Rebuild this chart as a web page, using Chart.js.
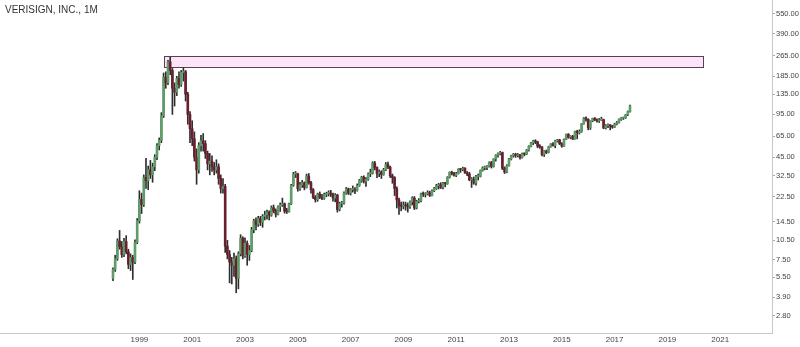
<!DOCTYPE html>
<html><head><meta charset="utf-8">
<script src="https://cdn.jsdelivr.net/npm/chart.js@4/dist/chart.umd.min.js"></script>
<style>html,body{margin:0;padding:0;background:#fff}#wrap{width:800px;height:347px}</style>
</head><body><div id="wrap"><canvas id="c" width="800" height="347"></canvas></div>
<script>
const chartTitle = 'VERISIGN, INC., 1M';
const firstYear = 1998; // first candle: January 1998, one candle per month
const yTickValues = [550, 390, 265, 185, 135, 95, 65, 45, 32.5, 22.5, 14.5, 10.5, 7.5, 5.5, 3.9, 2.8];
const xTickYears = [1999, 2001, 2003, 2005, 2007, 2009, 2011, 2013, 2015, 2017, 2019, 2021];

// monthly OHLC, one row per year (Jan..Dec)
const open = [
 5.4,6.3,7.6,10.4,9.4,8.2,10.3,8.6,6.9,7.8,7.2,10.1,
 14.8,21.5,19.6,31.5,29.8,36,33,38,45,55,60.5,93,
 182,165,238,205,150,140,178,160,198,200,135,95,
 74,62,45,36,55,60,57,48,40,42,38,36,
 38,31,26,27,9.5,8.2,7.2,6.8,7.6,5.4,8.3,10.9,
 8,10,8.2,8.8,12.6,14.8,13.9,15.4,14.4,16,16.4,17.2,
 16.3,18.6,17.6,16.6,18.9,19.6,19.9,17.5,17.4,19.9,27.5,33.4,
 33.5,25.9,27.7,28.7,26.5,32.3,28.8,25.5,22.3,21.4,23.6,22.4,
 21.9,23.4,23.8,24,23.5,22,23.2,18,20,20.2,24,25.9,
 24,25.5,25.6,25.1,27.4,29.9,31.7,29.6,30.5,33.7,34.1,40.5,
 37.6,33.9,34.8,33.2,36,39.5,37.8,32.5,31.5,26,21.3,19.2,
 19.1,19.4,19.2,18.9,20.6,22,18.5,20.8,21,23.7,23.5,23.6,
 24.2,23,25,26,27.3,27.9,26.5,28.5,28.2,31.7,34.5,34,
 32.7,33.8,36.3,36.2,36.9,34.2,33.5,30.3,30.5,28.6,32.1,32.1,
 35.7,37.3,37.4,38.3,41,38.3,43.6,46.6,47.9,48.7,37.1,34.7,
 38.8,43.5,46.2,47.3,46.2,46.9,44.7,47.8,47.5,50.9,54.3,57.7,
 59.8,58.7,54.5,53.9,47.2,50,48.8,54,56.7,55.1,59.8,60.9,
 57,54.6,61.4,67,63.6,64.6,61.7,70.6,69,70.6,80.6,88.9,
 87.4,75.5,84.8,88.5,86.5,85,86.5,86.6,74.8,78.2,78.6,77.8,
 76.1,80.2,82.3,87.1,89.3,89.5,94.5,100
];
const high = [
 6.5,8.1,10.8,12.5,10.3,10.9,11.4,9,8.3,8.1,10.6,15.4,
 25,24,33,44,38.5,42.5,40.5,47,57,63,98,196,
 200,245,258,212,165,185,200,205,215,205,140,100,
 85,70,52,58,66,68,60,50,48,46,41,43,
 40,33,31,28,10.5,8.8,7.8,8.4,8,8.6,11.6,11.2,
 11,10.4,9.6,13.2,15.2,15.6,16,16,16.5,17.5,17.8,17.6,
 19.2,19.5,18.2,19.2,20.2,22,20.2,18.4,20.2,28,34.5,35,
 34,29,30,29.2,33.5,33.8,29.5,26,23,24,24.5,23.5,
 24,24.4,25,25.2,24,23.8,23.5,20.5,20.8,24.5,26.5,26.2,
 26,27.2,26.4,28.2,30.5,32.2,32.5,31.5,34.2,36.5,41.5,41.8,
 38,36,35.5,37,41,41.2,38.5,33.5,32,26.8,22,20.5,
 20.6,20.5,20.2,21,22.5,22.6,21.2,21.8,24,24.5,24.2,25,
 24.8,25.4,26.5,28,28.5,28.8,29,29,32,34.8,35.2,34.5,
 34.5,36.8,37,37.8,37.5,35,34.5,31.5,31.8,32.8,33.5,36,
 38,38.5,38.8,41.5,41.8,43.8,47,48.5,49.8,49.2,38,39.5,
 44,46.6,48,48.2,48,47.2,48.4,48.5,51.5,55,58.2,60.5,
 61,59.5,56,54.2,50.5,51,54.5,57,58,60.5,61.5,61.5,
 58,62,67.5,68,65.5,66,71,72,72.5,81,90,91,
 88,85,89,90,88,88.5,90.5,87.5,79.5,80.5,79.5,78.5,
 81.5,84,88,90,90.5,95,101,112
];
const low = [
 5.2,6.1,7.4,9,7.8,7.9,8.3,6.4,6.2,5.3,7,9.9,
 14.2,16.8,19,26,25.5,31,29,35.5,43,51,58,90,
 150,160,190,95,110,132,150,155,170,120,80,58,
 55,42,28,34,50,50,44,36,33,35,33,34,
 28,24,24,8.5,7.6,5,4.9,5.6,4.2,4.5,8,7.6,
 7.8,6.8,7.4,8.6,12,12.6,13.4,13.6,13.2,15,15.2,15,
 16,17,15.8,16.4,17.4,19,16.9,16.8,17.2,19.6,27,31.5,
 24.8,25.2,26.5,25.4,26.2,28,24,21.8,20.5,20.8,21.8,21.4,
 21.5,22.5,22.8,22.6,20.8,20.6,17.2,17.6,18.8,19.8,23.5,23.4,
 23.2,24.4,23.8,24.8,27,29,28.6,27,30,32,33.5,36,
 31.5,32,31,32.8,35.5,36.8,31.5,28.5,23,18.5,16.5,17.6,
 18.2,17.8,17.2,18.4,19.5,18,18.2,20.2,20.6,22.6,22.4,23.2,
 22.6,22.8,24.6,25.6,25.8,26,25.8,26.8,28,31.2,33,32.2,
 32,33.5,34.5,35.5,33.8,32.5,29.8,26.5,28,27.6,30.2,31.8,
 35.2,36,36.2,37.8,37.2,37.8,42,45,46.8,36.2,33.8,34.2,
 38.5,42.8,45,44.8,45.2,43.5,44.2,46,47,50,53.8,56,
 57,53,52.5,46,45.5,47.8,48.5,53.5,54.5,53,58.5,56,
 53.5,54.2,61,62.5,62,61.2,61.5,62,67.5,69.5,80,84.5,
 72.5,73,83.5,85,83,82.5,85.5,74,73.5,75.5,72.5,74.5,
 75.5,79,81.5,85.5,87,88.5,93,99
];
const close = [
 6.3,7.6,10.4,9.4,8.2,10.3,8.6,6.9,7.8,7.2,10.1,14.8,
 21.5,19.6,31.5,29.8,36,33,38,45,55,60.5,93,182,
 165,238,205,150,140,178,160,198,200,135,95,74,
 62,45,36,55,60,57,48,40,42,38,36,38,
 31,26,27,9.5,8.2,7.2,6.8,7.6,5.4,8.3,10.9,8,
 10,8.2,8.8,12.6,14.8,13.9,15.4,14.4,16,16.4,17.2,16.3,
 18.6,17.6,16.6,18.9,19.6,19.9,17.5,17.4,19.9,27.5,33.4,33.5,
 25.9,27.7,28.7,26.5,32.3,28.8,25.5,22.3,21.4,23.6,22.4,21.9,
 23.4,23.8,24,23.5,22,23.2,18,20,20.2,24,25.9,24,
 25.5,25.6,25.1,27.4,29.9,31.7,29.6,30.5,33.7,34.1,40.5,37.6,
 33.9,34.8,33.2,36,39.5,37.8,32.5,31.5,26,21.3,19.2,19.1,
 19.4,19.2,18.9,20.6,22,18.5,20.8,21,23.7,23.5,23.6,24.2,
 23,25,26,27.3,27.9,26.5,28.5,28.2,31.7,34.5,34,32.7,
 33.8,36.3,36.2,36.9,34.2,33.5,30.3,30.5,28.6,32.1,32.1,35.7,
 37.3,37.4,38.3,41,38.3,43.6,46.6,47.9,48.7,37.1,34.7,38.8,
 43.5,46.2,47.3,46.2,46.9,44.7,47.8,47.5,50.9,54.3,57.7,59.8,
 58.7,54.5,53.9,47.2,50,48.8,54,56.7,55.1,59.8,60.9,57,
 54.6,61.4,67,63.6,64.6,61.7,70.6,69,70.6,80.6,88.9,87.4,
 75.5,84.8,88.5,86.5,85,86.5,86.6,74.8,78.2,78.6,77.8,76.1,
 80.2,82.3,87.1,89.3,89.5,94.5,100,110
];

// highlighted resistance zone (price band, months from Jan 1998)
const zoneLow = 218, zoneHigh = 262, zoneStartMonth = 23.2, zoneEndMonth = 268.2;

const upColor = '#5e9c68', downColor = '#6a1f2f', wickColor = '#2e2e2e';
const n = close.length;
const wickData = [], bodyData = [], bodyColors = [];
for (let i = 0; i < n; i++) {
  wickData.push({x: i, y: [low[i], high[i]]});
  bodyData.push({x: i, y: [open[i], close[i]]});
  bodyColors.push(close[i] >= open[i] ? upColor : downColor);
}

const zonePlugin = {
  id: 'zone',
  beforeDatasetsDraw(chart) {
    const {ctx, scales: {x, y}} = chart;
    const x0 = x.getPixelForValue(zoneStartMonth), x1 = x.getPixelForValue(zoneEndMonth);
    const y0 = y.getPixelForValue(zoneHigh), y1 = y.getPixelForValue(zoneLow);
    ctx.save();
    ctx.fillStyle = '#fde3f8';
    ctx.fillRect(x0, y0, x1 - x0, y1 - y0);
    ctx.strokeStyle = '#5a3d58';
    ctx.lineWidth = 1;
    ctx.strokeRect(Math.round(x0) + 0.5, Math.round(y0) + 0.5, Math.round(x1 - x0), Math.round(y1 - y0));
    ctx.restore();
  }
};
const titlePlugin = {
  id: 'ttl',
  afterDraw(chart) {
    const ctx = chart.ctx;
    ctx.save();
    ctx.font = '10px "Liberation Sans", Arial, sans-serif';
    ctx.fillStyle = '#333';
    ctx.textBaseline = 'middle';
    ctx.fillText(chartTitle, 5, 10);
    ctx.restore();
  }
};

new Chart(document.getElementById('c'), {
  type: 'bar',
  data: {
    datasets: [
      {data: wickData, backgroundColor: wickColor, barThickness: 1, grouped: false, order: 2},
      {data: bodyData, backgroundColor: bodyColors, barThickness: 2, grouped: false, minBarLength: 1, order: 1}
    ]
  },
  options: {
    responsive: false, animation: false, devicePixelRatio: 1,
    layout: {padding: 0},
    plugins: {legend: {display: false}, tooltip: {enabled: false}},
    scales: {
      x: {
        type: 'linear', min: -51.36, max: 299.55, offset: false,
        grid: {display: false, drawTicks: false},
        border: {display: true, color: '#c8c8c8'},
        afterBuildTicks: s => { s.ticks = xTickYears.map(yr => ({value: (yr - firstYear) * 12})); },
        afterFit: s => { s.height = 14; s.paddingLeft = 0; s.paddingRight = 0; },
        ticks: {autoSkip: false, maxRotation: 0, padding: 2, color: '#444',
          font: {family: '"Liberation Sans", Arial, sans-serif', size: 8},
          callback: v => String(firstYear + Math.round(v / 12))}
      },
      y: {
        type: 'logarithmic', position: 'right', min: 2.08, max: 702,
        grid: {display: true, drawOnChartArea: false, drawTicks: true, tickLength: 3, color: '#aaa'},
        border: {display: true, color: '#c8c8c8'},
        afterBuildTicks: s => { s.ticks = yTickValues.map(v => ({value: v})); },
        afterFit: s => { s.width = 28; s.paddingTop = 0; s.paddingBottom = 0; },
        ticks: {autoSkip: false, padding: 1, color: '#444',
          font: {family: '"Liberation Sans", Arial, sans-serif', size: 7.5},
          callback: v => Number(v).toFixed(2)}
      }
    }
  },
  plugins: [zonePlugin, titlePlugin]
});
</script></body></html>
